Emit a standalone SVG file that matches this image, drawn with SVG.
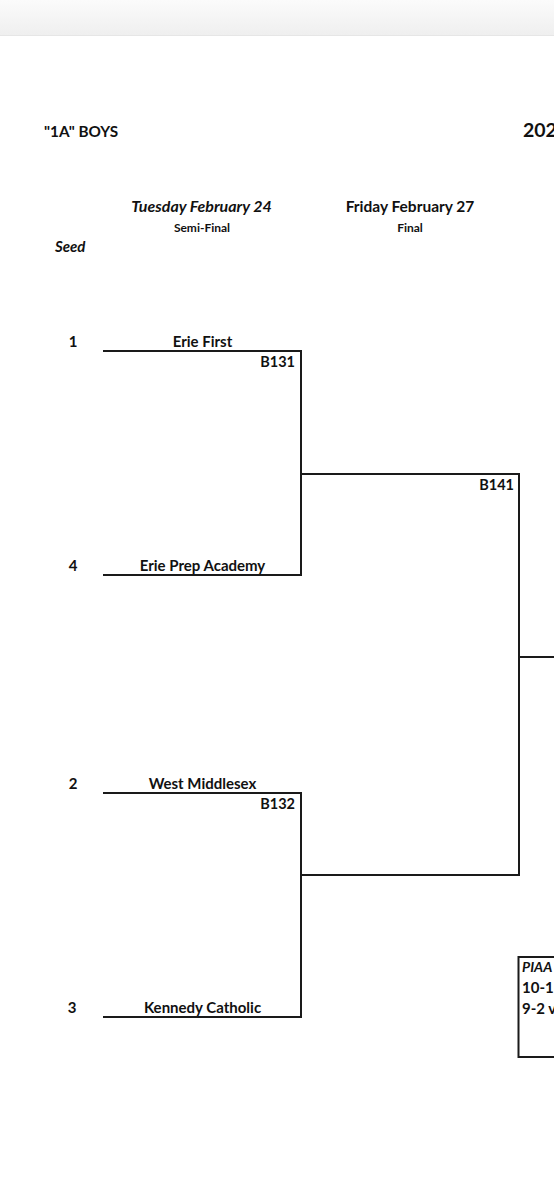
<svg xmlns="http://www.w3.org/2000/svg" width="554" height="1200" viewBox="0 0 554 1200">
<defs>
<linearGradient id="bar" x1="0" y1="0" x2="0" y2="1">
<stop offset="0" stop-color="#fbfbfb"/>
<stop offset="1" stop-color="#efefef"/>
</linearGradient>
<style>
text{font-family:Lato,"Liberation Sans",sans-serif;font-weight:bold;fill:#111;}
.team{font-size:15px;text-anchor:middle;}
.seed{font-size:15px;text-anchor:middle;}
.game{font-size:14.5px;text-anchor:end;}
.hdr{font-size:15.5px;text-anchor:middle;}
.sub{font-size:12px;text-anchor:middle;}
.it{font-style:italic;}
.ln{stroke:#1a1a1a;stroke-width:2;fill:none;}
</style>
</defs>
<rect width="554" height="1200" fill="#ffffff"/>
<rect x="0" y="0" width="554" height="35" fill="url(#bar)"/>
<line x1="0" y1="35.5" x2="554" y2="35.5" stroke="#e6e6e6" stroke-width="1"/>

<g id="header">
<text x="44" y="137" style="font-size:15.3px">"1A" BOYS</text>
<text x="523" y="137" style="font-size:19.5px">202</text>
<text class="hdr it" x="201.5" y="212" style="font-size:16px">Tuesday February 24</text>
<text class="sub" x="202" y="232">Semi-Final</text>
<text class="hdr" x="410" y="212">Friday February 27</text>
<text class="sub" x="410" y="232">Final</text>
<text class="it" x="55" y="252" style="font-size:15px">Seed</text>
</g>

<g id="connectors">
<polyline class="ln" points="103,351 301,351 301,575 103,575"/>
<polyline class="ln" points="103,793 301,793 301,1017 103,1017"/>
<polyline class="ln" points="301,474 519,474 519,875 301,875"/>
<line class="ln" x1="519" y1="657" x2="554" y2="657"/>
</g>

<g id="team-erie-first">
<text class="seed" x="73" y="347">1</text>
<text class="team" x="202.5" y="347">Erie First</text>
</g>
<g id="team-erie-prep">
<text class="seed" x="73" y="571">4</text>
<text class="team" x="202.5" y="571">Erie Prep Academy</text>
</g>
<g id="team-west-middlesex">
<text class="seed" x="73" y="789">2</text>
<text class="team" x="202.5" y="789">West Middlesex</text>
</g>
<g id="team-kennedy-catholic">
<text class="seed" x="72" y="1013">3</text>
<text class="team" x="202.5" y="1013">Kennedy Catholic</text>
</g>
<g id="game-b131"><text class="game" x="295" y="367">B131</text></g>
<g id="game-b132"><text class="game" x="295" y="809">B132</text></g>
<g id="game-b141"><text class="game" x="514" y="490">B141</text></g>

<g id="piaa-box">
<rect x="518.5" y="957" width="60" height="100" fill="#ffffff" stroke="#1a1a1a" stroke-width="2"/>
<text class="it" x="522" y="972" style="font-size:14px">PIAA</text>
<text x="522" y="993" style="font-size:15px">10-1</text>
<text x="522" y="1014" style="font-size:15px">9-2 v</text>
</g>
</svg>
